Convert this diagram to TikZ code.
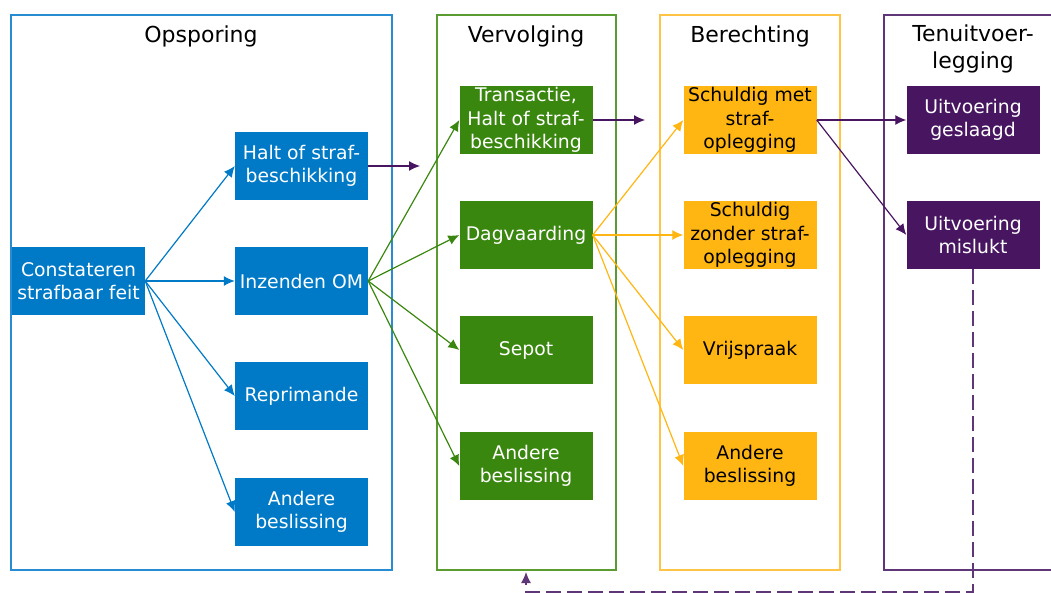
\documentclass[tikz,border=0pt]{standalone}
\usepackage{fontspec}
\setmainfont{DejaVu Sans}
\usetikzlibrary{arrows.meta}
\definecolor{cblue}{RGB}{0,122,199}
\definecolor{cgreen}{RGB}{58,135,15}
\definecolor{corange}{RGB}{255,182,18}
\definecolor{cpurple}{RGB}{72,22,96}
\definecolor{bblue}{RGB}{40,140,210}
\definecolor{bgreen}{RGB}{90,155,50}
\definecolor{borange}{RGB}{255,195,70}
\definecolor{bpurple}{RGB}{95,55,120}
\tikzset{
  box/.style={minimum width=133pt, minimum height=68pt, inner sep=1pt, align=center,
    font=\fontsize{18.8}{23.5}\selectfont},
  bluebox/.style={box, fill=cblue, text=white},
  greenbox/.style={box, fill=cgreen, text=white},
  orangebox/.style={box, fill=corange, text=black},
  purplebox/.style={box, fill=cpurple, text=white},
  panel/.style={line width=1.3pt},
  title/.style={font=\fontsize{22}{27}\selectfont, align=center, text=black},
  conn/.style={line width=1.2pt, -{Latex[length=11pt,width=10pt]}},
}
\begin{document}
\begin{tikzpicture}[x=1pt,y=-1pt]
\useasboundingbox (0,0) rectangle (1051,593);
% panels
\draw[panel, bblue] (11,15) rectangle (392,570);
\draw[panel, bgreen] (437,15) rectangle (616,570);
\draw[panel, borange] (660,15) rectangle (840,570);
\draw[panel, bpurple] (1070,15) -- (884,15) -- (884,570) -- (1070,570);
\node[title] (t1) at (201,36) {Opsporing};
\node[title] (t2) at (526,36) {Vervolging};
\node[title] (t3) at (750,36) {Berechting};
\node[title] (t4) at (973,49) {Tenuitvoer-\\legging};
% blue
\node[bluebox] (c) at (78.5,281) {Constateren\\strafbaar feit};
\node[bluebox] (halt) at (301.5,166) {Halt of straf-\\beschikking};
\node[bluebox] (inz) at (301.5,281) {Inzenden OM};
\node[bluebox] (rep) at (301.5,396) {Reprimande};
\node[bluebox] (ab) at (301.5,512) {Andere\\beslissing};
% green
\node[greenbox] (tr) at (526,120) {Transactie,\\Halt of straf-\\beschikking};
\node[greenbox] (dag) at (526,235) {Dagvaarding};
\node[greenbox] (sep) at (526,350) {Sepot};
\node[greenbox] (ag) at (526,466) {Andere\\beslissing};
% orange
\node[orangebox] (sm) at (750,120) {Schuldig met\\straf-\\oplegging};
\node[orangebox] (sz) at (750,235) {Schuldig\\zonder straf-\\oplegging};
\node[orangebox] (vr) at (750,350) {Vrijspraak};
\node[orangebox] (ao) at (750,466) {Andere\\beslissing};
% purple
\node[purplebox] (ug) at (973,120) {Uitvoering\\geslaagd};
\node[purplebox] (um) at (973,235) {Uitvoering\\mislukt};
% free ends
\coordinate (e1) at (420,166);
\coordinate (e2) at (645,120);
\coordinate (d1) at (973,592);
\coordinate (d2) at (526,592);
\coordinate (d3) at (526,572);
% connectors
\foreach \t in {halt,inz,rep,ab} \draw[conn, cblue] (c.east) -- (\t.west);
\foreach \t in {tr,dag,sep,ag} \draw[conn, cgreen] (inz.east) -- (\t.west);
\foreach \t in {sm,sz,vr,ao} \draw[conn, corange] (dag.east) -- (\t.west);
\draw[conn, cpurple] (halt.east) -- (e1);
\draw[conn, cpurple] (tr.east) -- (e2);
\draw[conn, cpurple] (sm.east) -- (ug.west);
\draw[conn, cpurple] (sm.east) -- (um.west);
\draw[conn, bpurple, dash pattern=on 15pt off 6pt] (um.south) -- (d1) -- (d2) -- (d3);
\end{tikzpicture}
\end{document}
